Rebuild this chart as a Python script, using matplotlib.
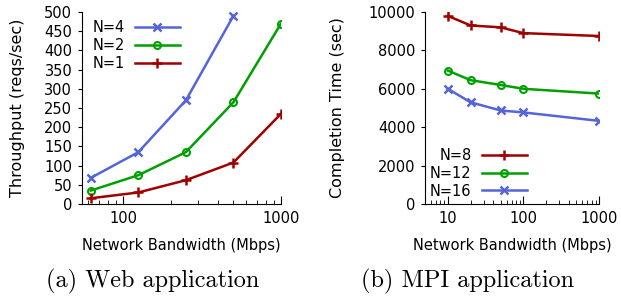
import numpy as np
import matplotlib
matplotlib.use("Agg")
import matplotlib.pyplot as plt
from matplotlib.ticker import NullFormatter, FixedLocator

# (a) web application
web_bw = [62.5, 125, 250, 500, 1000]
web_n4 = [68, 135, 270, 490]
web_n2 = [35, 75, 135, 265, 470]
web_n1 = [15, 30, 62, 108, 235]

# (b) MPI application
mpi_bw = [10, 20, 50, 100, 1000]
mpi_n8 = [9800, 9300, 9200, 8900, 8750]
mpi_n12 = [6950, 6450, 6200, 6000, 5750]
mpi_n16 = [6000, 5300, 4870, 4770, 4330]

RED = "#a00000"
GREEN = "#00a000"
BLUE = "#5565d8"

plt.rcParams["font.family"] = "DejaVu Sans"
plt.rcParams["font.size"] = 10.5

fig = plt.figure(figsize=(6.21, 2.97), dpi=100)
ax1 = fig.add_axes([82/621, 1-204/297, 199/621, 192/297])
ax2 = fig.add_axes([425/621, 1-204/297, 174/621, 192/297])

lw = 1.8
ax1.plot(web_bw[:4], web_n4, color=BLUE, lw=lw, marker="x", ms=6, mew=1.8, label="N=4")
ax1.plot(web_bw, web_n2, color=GREEN, lw=lw, marker="o", ms=5, mfc="none", mew=1.5, label="N=2")
ax1.plot(web_bw, web_n1, color=RED, lw=lw, marker="+", ms=7, mew=1.8, label="N=1")

ax2.plot(mpi_bw, mpi_n8, color=RED, lw=lw, marker="+", ms=7, mew=1.8, label="N=8")
ax2.plot(mpi_bw, mpi_n12, color=GREEN, lw=lw, marker="o", ms=5, mfc="none", mew=1.5, label="N=12")
ax2.plot(mpi_bw, mpi_n16, color=BLUE, lw=lw, marker="x", ms=6, mew=1.8, label="N=16")

for ax in (ax1, ax2):
    ax.set_xscale("log")
    ax.spines["top"].set_visible(False)
    ax.spines["right"].set_visible(False)
    ax.tick_params(axis="x", which="both", direction="in", top=False, pad=5)
    ax.tick_params(axis="x", which="major", length=6)
    ax.tick_params(axis="x", which="minor", length=3)
    ax.tick_params(axis="y", direction="out", length=3, pad=4, right=False)
    ax.xaxis.set_minor_formatter(NullFormatter())
    ax.set_xlabel("Network Bandwidth (Mbps)", labelpad=9)

ax1.set_xlim(55, 1000)
ax1.set_ylim(0, 500)
ax1.set_yticks(np.arange(0, 501, 50))
ax1.xaxis.set_major_locator(FixedLocator([100, 1000]))
ax1.set_xticklabels(["100", "1000"])
ax1.set_ylabel("Throughput (reqs/sec)", fontsize=11.5, labelpad=14)

ax2.set_xlim(5, 1000)
ax2.set_ylim(0, 10000)
ax2.set_yticks(np.arange(0, 10001, 2000))
ax2.xaxis.set_major_locator(FixedLocator([10, 100, 1000]))
ax2.set_xticklabels(["10", "100", "1000"])
ax2.set_ylabel("Completion Time (sec)", fontsize=11.5, labelpad=17)

ax1.legend(loc="upper left", bbox_to_anchor=(0.0, 1.01), markerfirst=False, frameon=False,
           handlelength=3.1, labelspacing=0.2, handletextpad=0.7, borderaxespad=0.3)
ax2.legend(loc="lower left", bbox_to_anchor=(-0.03, -0.025), markerfirst=False, frameon=False,
           handlelength=3.1, labelspacing=0.2, handletextpad=0.7, borderaxespad=0.3)

fig.text(153/621, 1-281/297, "(a) Web application", ha="center", va="center",
         family="cmr10", fontsize=17.5)
fig.text(468/621, 1-281/297, "(b) MPI application", ha="center", va="center",
         family="cmr10", fontsize=17.5)

fig.savefig("out.png", dpi=100)
